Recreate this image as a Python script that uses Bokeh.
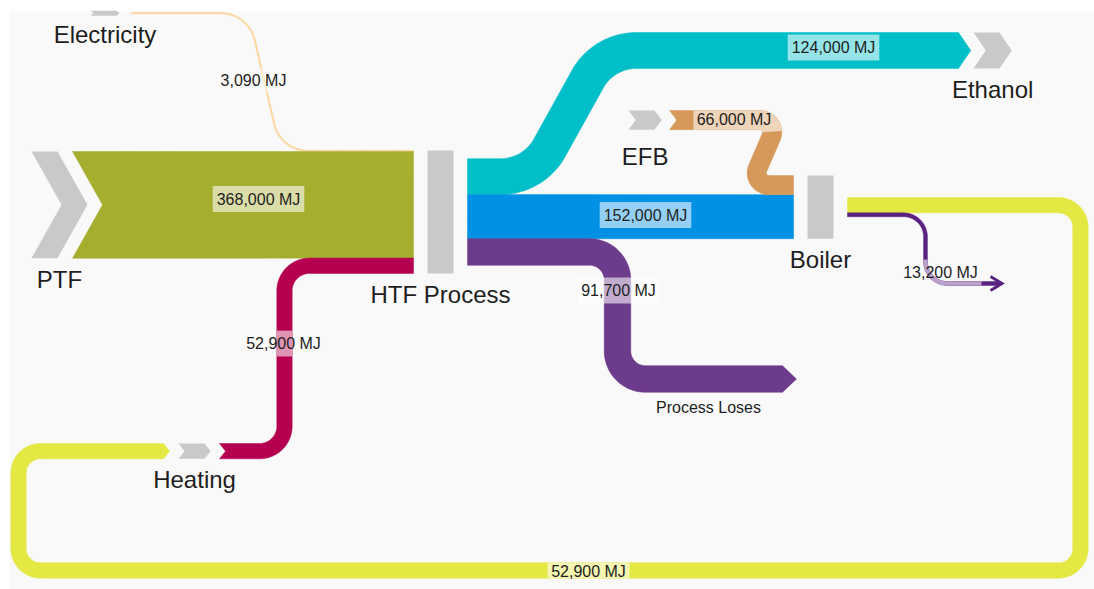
import numpy as np
from bokeh.plotting import figure
from bokeh.models import Range1d, ColumnDataSource
from bokeh.embed import file_html
from bokeh.resources import INLINE
from bokeh.core.properties import value

# ---------------- chart data ----------------
node_names = ["Electricity", "PTF", "Heating", "HTF Process", "EFB",
              "Boiler", "Ethanol", "Process Loses", "Flue loss"]
flow_source = ["Electricity", "PTF", "Heating", "HTF Process", "HTF Process",
               "HTF Process", "EFB", "Boiler", "Boiler"]
flow_target = ["HTF Process", "HTF Process", "HTF Process", "Ethanol", "Boiler",
               "Process Loses", "Boiler", "Heating", "Flue loss"]
flow_value = [3090, 368000, 52900, 124000, 152000, 91700, 66000, 52900, 13200]
value_unit = "MJ"

# ---------------- layout (drawing pixels) ----------------
PX_PER_MJ = 0.00029
GAP = 14
BODY = 26
node_layout = {
    "Electricity":   dict(kind="source", x=90, top=12.2),
    "PTF":           dict(kind="source", x=31, top=151),
    "Heating":       dict(kind="source", x=178, top=443),
    "EFB":           dict(kind="source", x=628, top=110, label_dy=27),
    "HTF Process":   dict(kind="bar", x=427, w=26, top=150),
    "Boiler":        dict(kind="bar", x=807, w=26, top=175),
    "Ethanol":       dict(kind="sink", x=973, top=32),
    "Process Loses": dict(kind="end", x=782, top=365.2, tip=14, label_at=(708, 407)),
    "Flue loss":     dict(kind="end", x=1000, top=281.1, open_arrow=True, hide_label=True),
}
stack_in = {"HTF Process": ["Electricity", "PTF", "Heating"], "Boiler": ["EFB", "HTF Process"]}
stack_out = {"HTF Process": ["Ethanol", "Boiler", "Process Loses"], "Boiler": ["Heating", "Flue loss"]}
# routing corners per flow ("s"/"e" = y of the start / end), and corner radius
flow_route = [
    ([(248, "s"), (280, "e")], 35),
    ([], 0),
    ([(284, "s"), (284, "e")], 25),
    ([(533, "s"), (603, "e")], 56),
    ([], 0),
    ([(617, "s"), (617, "e")], 28),
    ([(778, "s"), (750, "e")], 12),
    ([(1080, "s"), (1080, 570), (18, 570), (18, "e")], 22),
    ([(925, "s"), (925, "e")], 22),
]
flow_label_at = [(253, 80), (258, 198.5), (283, 343), (833, 47), (645, 214.5),
                 (618, 290), (733.5, 119), (588, 571), (940, 272)]
flow_color = ["#fbd8a2", "#a6ae30", "#b4004e", "#00bfc9", "#0090e4",
              "#6d3b8b", "#d6995a", "#e3e843", "#5b2282"]
NODE_GREY = "#c9c9c9"
TEXT_DARK = "#1e1e1e"
LABEL_FONT = "Liberation Sans"
LABEL_SIZE = 16
NODE_FONT = "Liberation Sans"


def tip_depth(half):
    return min(0.6 * half + 1.5, 30.0)


def fillet_path(pts, R, n=28):
    P = [np.asarray(p, float) for p in pts]
    out = [P[0]]
    k = len(P)
    for i in range(1, k - 1):
        p0, p1, p2 = P[i - 1], P[i], P[i + 1]
        v1 = p1 - p0; l1 = np.hypot(*v1); u1 = v1 / l1
        v2 = p2 - p1; l2 = np.hypot(*v2); u2 = v2 / l2
        cr = u1[0] * u2[1] - u1[1] * u2[0]
        alpha = np.arccos(np.clip(u1 @ u2, -1, 1))
        if alpha < 1e-6 or R <= 0:
            out.append(p1)
            continue
        T = R * np.tan(alpha / 2)
        lim = min(l1 if i == 1 else l1 / 2, l2 if i == k - 2 else l2 / 2)
        r = R
        if T > lim:
            T = lim
            r = T / np.tan(alpha / 2)
        a = p1 - u1 * T
        sgn = 1.0 if cr > 0 else -1.0
        c = a + np.array([-u1[1], u1[0]]) * sgn * r
        a0 = np.arctan2((a - c)[1], (a - c)[0])
        for t in a0 + sgn * alpha * np.linspace(0, 1, n):
            out.append(c + r * np.array([np.cos(t), np.sin(t)]))
    out.append(P[-1])
    arr = np.array(out)
    keep = np.r_[True, np.hypot(*np.diff(arr, axis=0).T) > 1e-6]
    return arr[keep]


def band_poly(c, t, notch=0.0, tip=0.0):
    seg = np.diff(c, axis=0)
    L = np.hypot(seg[:, 0], seg[:, 1])
    c = c[np.r_[True, L > 1e-9]]
    seg = np.diff(c, axis=0)
    L = np.hypot(seg[:, 0], seg[:, 1])
    u = seg / L[:, None]
    nr = np.stack([-u[:, 1], u[:, 0]], 1)
    vn = np.empty_like(c)
    vn[0] = nr[0]
    vn[-1] = nr[-1]
    if len(c) > 2:
        m = nr[:-1] + nr[1:]
        m /= np.hypot(m[:, 0], m[:, 1])[:, None]
        cosv = np.sum(m * nr[1:], 1)
        vn[1:-1] = m / cosv[:, None]
    h = t / 2
    left = c + vn * h
    right = c - vn * h
    pts = list(left)
    if tip > 0:
        pts.append(c[-1] + u[-1] * tip)
    pts += list(right[::-1])
    if notch > 0:
        pts.append(c[0] + u[0] * notch)
    arr = np.array(pts)
    return list(arr[:, 0]), list(arr[:, 1])


def densify(c, step=1.0):
    out = [c[0]]
    for p, q in zip(c[:-1], c[1:]):
        d = np.hypot(*(q - p))
        n = max(1, int(np.ceil(d / step)))
        for k in range(1, n + 1):
            out.append(p + (q - p) * k / n)
    return np.array(out)


CW = {",": 278, " ": 278, "M": 833, "J": 500}


def label_width(s, size=LABEL_SIZE):
    return sum(CW.get(ch, 556) for ch in s) / 1000 * size


# ---------------- geometry from values ----------------
thick = [v * PX_PER_MJ for v in flow_value]
ins = {n: [i for i, t in enumerate(flow_target) if t == n] for n in node_names}
outs = {n: [i for i, s in enumerate(flow_source) if s == n] for n in node_names}
for n, order in stack_in.items():
    ins[n] = sorted(ins[n], key=lambda i: order.index(flow_source[i]))
for n, order in stack_out.items():
    outs[n] = sorted(outs[n], key=lambda i: order.index(flow_target[i]))

start_pt, end_pt, node_geom = {}, {}, {}
for n in node_names:
    L = node_layout[n]
    tin = sum(thick[i] for i in ins[n])
    tout = sum(thick[i] for i in outs[n])
    H = max(tin, tout)
    top = L["top"]
    mid = top + H / 2
    node_geom[n] = (top, H)
    y = mid - tin / 2
    for i in ins[n]:
        if L["kind"] == "bar":
            ex = L["x"] - GAP
        elif L["kind"] in ("source", "sink"):
            ex = L["x"] - 15
        else:
            ex = L["x"]
        end_pt[i] = (ex, y + thick[i] / 2)
        y += thick[i]
    y = mid - tout / 2
    for i in outs[n]:
        sx = L["x"] + L["w"] + GAP if L["kind"] == "bar" else L["x"] + BODY + 15
        start_pt[i] = (sx, y + thick[i] / 2)
        y += thick[i]

# ---------------- figure ----------------
p = figure(width=1094, height=589, x_range=Range1d(0, 1094), y_range=Range1d(589, 0),
           output_backend="svg", toolbar_location=None, min_border=0,
           x_axis_location=None, y_axis_location=None)
p.grid.visible = False
p.outline_line_color = None
p.background_fill_color = "white"
p.border_fill_color = "white"

# panel
p.quad(left=[9], right=[1094], top=[11], bottom=[589], fill_color="#f9f9f9", line_color=None)

paths = {}
band_xs, band_ys, band_cols = [], [], []
for i in range(len(flow_value)):
    sx, sy = start_pt[i]
    ex, ey = end_pt[i]
    vias, R = flow_route[i]
    pts = [(sx, sy)]
    for vx, vy in vias:
        pts.append((vx, sy if vy == "s" else ey if vy == "e" else vy))
    pts.append((ex, ey))
    c = fillet_path(pts, R)
    paths[i] = c
    t = thick[i]
    half = t / 2
    notch = tip = 0.0
    if t >= 5:
        if node_layout[flow_source[i]]["kind"] == "source":
            notch = tip_depth(half)
        tl = node_layout[flow_target[i]]
        if tl["kind"] in ("source", "sink"):
            tip = tip_depth(half)
        elif tl["kind"] == "end" and not tl.get("open_arrow"):
            tip = tl.get("tip", tip_depth(half))
    xs, ys = band_poly(c, max(t, 1.6), notch=notch, tip=tip)
    band_xs.append(xs)
    band_ys.append(ys)
    band_cols.append(flow_color[i])

p.patches(xs="xs", ys="ys", fill_color="col", line_color="col", line_width=0.5,
          source=ColumnDataSource(dict(xs=band_xs, ys=band_ys, col=band_cols)))

# open arrow heads
for i in range(len(flow_value)):
    tl = node_layout[flow_target[i]]
    if tl.get("open_arrow"):
        ex, ey = end_pt[i]
        p.line([ex - 10, ex + 1.5, ex - 10], [ey - 7, ey, ey + 7],
               line_color=flow_color[i], line_width=3, line_join="miter")

# nodes
for n in node_names:
    L = node_layout[n]
    top, H = node_geom[n]
    if L["kind"] == "bar":
        p.quad(left=[L["x"]], right=[L["x"] + L["w"]], top=[top], bottom=[top + H],
               fill_color=NODE_GREY, line_color=None)
    elif L["kind"] in ("source", "sink"):
        Hv = max(H, 5)
        mid = top + H / 2
        t0, b0 = mid - Hv / 2, mid + Hv / 2
        d = tip_depth(Hv / 2)
        x = L["x"]
        p.patch([x, x + BODY, x + BODY + d, x + BODY, x, x + d],
                [t0, t0, mid, b0, b0, mid], fill_color=NODE_GREY, line_color=None)

# value label boxes
bx, by = [], []
for i in range(len(flow_value)):
    cx, cy = flow_label_at[i]
    txt = f"{flow_value[i]:,} {value_unit}"
    w = label_width(txt) + 8
    x0, x1, y0, y1 = cx - w / 2, cx + w / 2, cy - 13, cy + 13
    if thick[i] >= 26:
        bx.append([x0, x1, x1, x0])
        by.append([y0, y0, y1, y1])
    else:
        d = densify(paths[i])
        ins_ = (d[:, 0] >= x0) & (d[:, 0] <= x1) & (d[:, 1] >= y0) & (d[:, 1] <= y1)
        sel = d[ins_]
        if len(sel) >= 2:
            xs, ys = band_poly(sel, max(thick[i], 1.6))
            bx.append(xs)
            by.append(ys)
p.patches(xs=bx, ys=by, fill_color="white", fill_alpha=0.58, line_color=None)

# value labels
p.text(x=[a for a, b in flow_label_at], y=[b for a, b in flow_label_at],
       text=[f"{v:,} {value_unit}" for v in flow_value],
       text_align="center", text_baseline="middle",
       text_font=value(LABEL_FONT), text_font_size=f"{LABEL_SIZE}px", text_color=TEXT_DARK)

# node labels
for n in node_names:
    L = node_layout[n]
    if L.get("hide_label"):
        continue
    top, H = node_geom[n]
    if "label_at" in L:
        lx, ly = L["label_at"]
        p.text(x=[lx], y=[ly], text=[n], text_align="center", text_baseline="middle",
               text_font=value(LABEL_FONT), text_font_size=f"{LABEL_SIZE}px", text_color=TEXT_DARK)
        continue
    if L["kind"] == "bar":
        lx = L["x"] + L["w"] / 2
    else:
        lx = L["x"] + (BODY + tip_depth(max(H, 5) / 2)) / 2
    ly = top + H + L.get("label_dy", 21)
    p.text(x=[lx], y=[ly], text=[n], text_align="center", text_baseline="middle",
           text_font=value(NODE_FONT), text_font_size="24px", text_color=TEXT_DARK)

open("out.html", "w").write(file_html(p, INLINE))
